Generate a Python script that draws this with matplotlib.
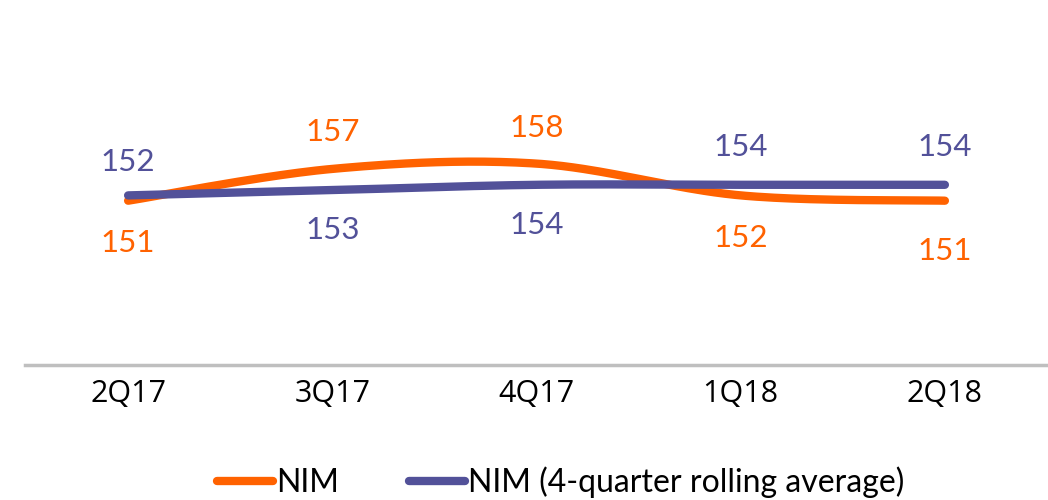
import numpy as np
import matplotlib
matplotlib.use("Agg")
import matplotlib.pyplot as plt
from matplotlib.lines import Line2D

quarters = ["2Q17", "3Q17", "4Q17", "1Q18", "2Q18"]
nim = [151, 157, 158, 152, 151]
nim_avg = [152, 153, 154, 154, 154]

ORANGE = "#FF6200"
PURPLE = "#525199"

# label offsets in pixels (positive = below the line)
nim_offsets = [42, -37, -36, 43, 50]
avg_offsets = [-33, 40, 40, -38, -38]


def smooth(xs, ys, n=40):
    xs = np.asarray(xs, float)
    ys = np.asarray(ys, float)
    px, py = [], []
    for i in range(len(xs) - 1):
        x0, y0 = xs[max(i - 1, 0)], ys[max(i - 1, 0)]
        x1, y1 = xs[i], ys[i]
        x2, y2 = xs[i + 1], ys[i + 1]
        x3, y3 = xs[min(i + 2, len(xs) - 1)], ys[min(i + 2, len(xs) - 1)]
        c1x, c1y = x1 + (x2 - x0) / 6, y1 + (y2 - y0) / 6
        c2x, c2y = x2 - (x3 - x1) / 6, y2 - (y3 - y1) / 6
        t = np.linspace(0, 1, n)
        bx = (1 - t) ** 3 * x1 + 3 * (1 - t) ** 2 * t * c1x + 3 * (1 - t) * t ** 2 * c2x + t ** 3 * x2
        by = (1 - t) ** 3 * y1 + 3 * (1 - t) ** 2 * t * c1y + 3 * (1 - t) * t ** 2 * c2y + t ** 3 * y2
        px.extend(bx)
        py.extend(by)
    return np.array(px), np.array(py)


fig = plt.figure(figsize=(10.48, 5.0), dpi=100)
ax = fig.add_axes([25 / 1048, 1 - 365 / 500, 1023 / 1048, 318 / 500])
x = np.arange(len(quarters))

sx, sy = smooth(x, nim)
ax.plot(sx, sy, color=ORANGE, lw=6, solid_capstyle="round", zorder=2)
sx, sy = smooth(x, nim_avg)
ax.plot(sx, sy, color=PURPLE, lw=6, solid_capstyle="round", zorder=3)

lab_font = dict(family=["Lato", "DejaVu Sans"], fontsize=22.5)
for xi, v, off in zip(x, nim, nim_offsets):
    ax.annotate(str(v), (xi, v), xytext=(0, -off), textcoords="offset pixels",
                ha="center", va="center", color=ORANGE, **lab_font)
for xi, v, off in zip(x, nim_avg, avg_offsets):
    ax.annotate(str(v), (xi, v), xytext=(0, -off), textcoords="offset pixels",
                ha="center", va="center", color=PURPLE, **lab_font)

ax.set_xlim(-0.505, 4.505)
ax.set_ylim(120, 180)
ax.set_yticks([])
ax.set_xticks(x)
ax.set_xticklabels(quarters, fontsize=22, family=["Open Sans", "DejaVu Sans"])
ax.tick_params(axis="x", length=0, pad=10)
for s in ["top", "right", "left"]:
    ax.spines[s].set_visible(False)
ax.spines["bottom"].set_color("#BFBFBF")
ax.spines["bottom"].set_linewidth(2.5)

handles = [Line2D([], [], color=ORANGE, lw=6, solid_capstyle="round"),
           Line2D([], [], color=PURPLE, lw=6, solid_capstyle="round")]
fig.legend(handles, ["NIM", "NIM (4-quarter rolling average)"], loc="center",
           bbox_to_anchor=(561 / 1048, 1 - 482 / 500), ncol=2, frameon=False,
           handlelength=1.75, handletextpad=0.1, columnspacing=2.2,
           prop=dict(family=["Lato", "DejaVu Sans"], size=23))

fig.savefig("out.png", dpi=100)
